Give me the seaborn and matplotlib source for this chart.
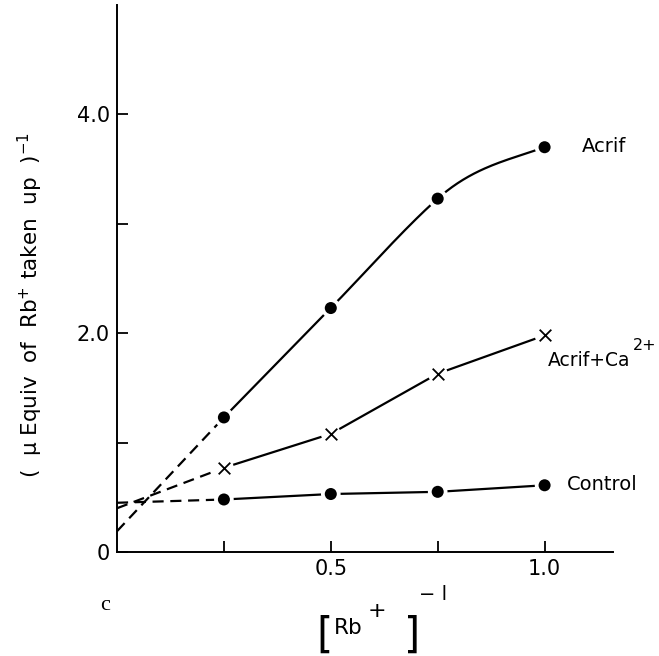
import numpy as np
import pandas as pd
import matplotlib
matplotlib.use("Agg")
import matplotlib.pyplot as plt
import seaborn as sns

# ---- data ----
x_vals = [0.25, 0.5, 0.75, 1.0]
acrif = [1.23, 2.23, 3.23, 3.70]
acrif_ca = [0.77, 1.08, 1.63, 1.98]
control = [0.48, 0.53, 0.55, 0.61]
# slopes of the hand-drawn Acrif curve at each point
acrif_slopes = [4.0, 4.0, 3.5, 1.4]
# extrapolated y-intercepts (dashed lines)
intercept_acrif = 0.19
intercept_acrif_ca = 0.40
intercept_control = 0.45

x_ticks = [0.25, 0.5, 0.75, 1.0]
x_ticklabels = ["", "0.5", "", "1.0"]
y_ticks = [0, 1, 2, 3, 4]
y_ticklabels = ["0", "", "2.0", "", "4.0"]

sns.set_theme(style="ticks")
plt.rcParams["font.family"] = ["DejaVu Sans"]
plt.rcParams["mathtext.fontset"] = "dejavusans"
plt.rcParams["text.color"] = "black"

fig = plt.figure(figsize=(6.59, 6.56), dpi=100)
ax = fig.add_axes([117 / 659, 1 - 552 / 656, (613 - 117) / 659, (552 - 5) / 656])

lw = 1.6
col = "black"


def hermite(xk, yk, mk, n=60):
    xs_all, ys_all = [], []
    for i in range(len(xk) - 1):
        h = xk[i + 1] - xk[i]
        t = np.linspace(0, 1, n)
        h00 = 2 * t**3 - 3 * t**2 + 1
        h10 = t**3 - 2 * t**2 + t
        h01 = -2 * t**3 + 3 * t**2
        h11 = t**3 - t**2
        ys = h00 * yk[i] + h10 * h * mk[i] + h01 * yk[i + 1] + h11 * h * mk[i + 1]
        xs_all.append(xk[i] + t * h)
        ys_all.append(ys)
    return np.concatenate(xs_all), np.concatenate(ys_all)


cx, cy = hermite(x_vals, acrif, acrif_slopes)
curve = pd.DataFrame({"x": cx, "y": cy})
sns.lineplot(data=curve, x="x", y="y", ax=ax, color=col, lw=lw, zorder=2,
             sort=False, estimator=None)

ca_df = pd.DataFrame({"x": x_vals, "y": acrif_ca})
ctl_df = pd.DataFrame({"x": x_vals, "y": control})
sns.lineplot(data=ca_df, x="x", y="y", ax=ax, color=col, lw=lw, zorder=2)
sns.lineplot(data=ctl_df, x="x", y="y", ax=ax, color=col, lw=lw, zorder=2)

# dashed extrapolations
for y0, series in [(intercept_acrif, acrif), (intercept_acrif_ca, acrif_ca), (intercept_control, control)]:
    d = pd.DataFrame({"x": [0.0, x_vals[0]], "y": [y0, series[0]]})
    sns.lineplot(data=d, x="x", y="y", ax=ax, color=col, lw=lw, zorder=2,
                 linestyle=(0, (5, 3)))

# white halos to create gaps at markers
all_df = pd.DataFrame({"x": x_vals * 3, "y": acrif + acrif_ca + control})
sns.scatterplot(data=all_df, x="x", y="y", ax=ax, s=200, color="white",
                edgecolor="none", zorder=3)

dots = pd.DataFrame({"x": x_vals * 2, "y": acrif + control})
sns.scatterplot(data=dots, x="x", y="y", ax=ax, s=75, color=col,
                edgecolor="none", marker="o", zorder=4)
sns.scatterplot(data=ca_df, x="x", y="y", ax=ax, s=70, color=col,
                marker="x", linewidth=1.3, zorder=4)

ax.set_xlim(0, 1.16)
ax.set_ylim(0, 5.0)
ax.set_xticks(x_ticks)
ax.set_xticklabels(x_ticklabels)
ax.set_yticks(y_ticks)
ax.set_yticklabels(y_ticklabels)
ax.tick_params(direction="in", length=8, width=1.3, labelsize=15, pad=5, colors=col)
ax.set_xlabel("")
ax.set_ylabel("")
for s in ["top", "right"]:
    ax.spines[s].set_visible(False)
for s in ["left", "bottom"]:
    ax.spines[s].set_linewidth(1.4)
    ax.spines[s].set_color(col)

# series labels (figure pixel positions)
fig.text(582 / 659, 1 - 147 / 656, "Acrif", fontsize=14, va="center", ha="left")
fig.text(548 / 659, 1 - 361 / 656, "Acrif+Ca", fontsize=13.5, va="center", ha="left")
fig.text(645 / 659, 1 - 346 / 656, "2+", fontsize=11.5, va="center", ha="center")
fig.text(567 / 659, 1 - 485 / 656, "Control", fontsize=14, va="center", ha="left")

# y axis label
fig.text(30 / 659, 1 - 305 / 656, "(  \u03bc Equiv  of  Rb$^{+}$ taken  up  )$^{-1}$",
         rotation=90, fontsize=15.5, ha="center", va="center")

# x axis label
fig.text(325 / 659, 1 - 636 / 656, "[", fontsize=30, ha="center", va="center")
fig.text(348 / 659, 1 - 628 / 656, "Rb", fontsize=15.5, ha="center", va="center")
fig.text(377 / 659, 1 - 611 / 656, "+", fontsize=16, ha="center", va="center")
fig.text(412 / 659, 1 - 636 / 656, "]", fontsize=30, ha="center", va="center")
fig.text(433 / 659, 1 - 595 / 656, "\u2212 l", fontsize=14, ha="center", va="center")

fig.text(105 / 659, 1 - 605 / 656, "c", fontsize=16, family="Liberation Serif",
         ha="center", va="center")

fig.savefig("out.png", dpi=100)
